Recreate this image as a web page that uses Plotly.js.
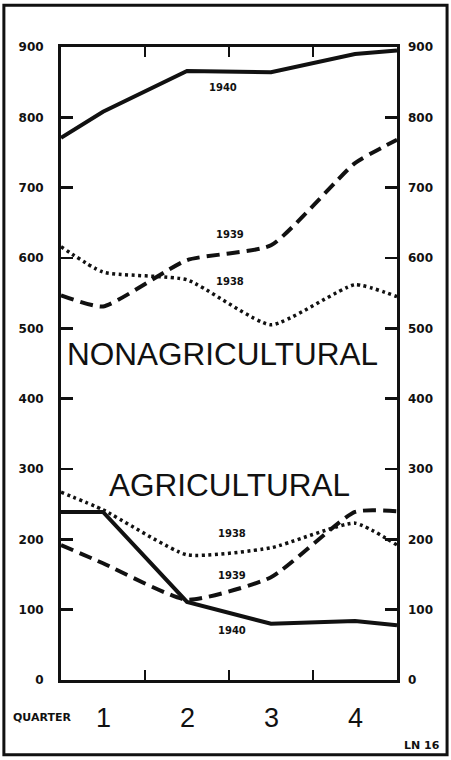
<!DOCTYPE html>
<html><head><meta charset="utf-8">
<script src="https://cdn.plot.ly/plotly-3.0.1.min.js"></script>
<style>html,body{margin:0;padding:0;background:#fff}#c{width:451px;height:760px}</style>
</head><body><div id="c"></div>
<script>
// positions along the quarter axis: chart edge, quarter 1..4 centres, chart edge
const xPos = [0, 0.5, 1.5, 2.5, 3.5, 4];
const quarters = ["1", "2", "3", "4"];
const quarterPos = [0.5, 1.5, 2.5, 3.5];
const yTicks = [0, 100, 200, 300, 400, 500, 600, 700, 800, 900];

const nonag1940 = [771, 808, 866, 864, 890, 895];
const nonag1939 = [547, 531, 597, 618, 735, 768];
const nonag1938 = [616, 580, 569, 505, 562, 545];
const ag1940 = [239, 239, 111, 80, 84, 78];
const ag1939 = [192, 166, 114, 146, 239, 240];
const ag1938 = [267, 242, 178, 188, 223, 192];

const BLK = '#111';
const solid = {color: BLK, width: 4, dash: 'solid'};
const dashed = {color: BLK, width: 4, dash: '13px,7px', shape: 'spline', smoothing: 0.5};
const dotted = {color: BLK, width: 3.5, dash: '3px,3.5px', shape: 'spline', smoothing: 0.5};

function tr(y, line) { return {x: xPos, y: y, mode: 'lines', line: line, hoverinfo: 'skip', showlegend: false}; }

const data = [
  tr(nonag1940, solid), tr(nonag1939, dashed), tr(nonag1938, dotted),
  tr(ag1940, solid), tr(ag1939, dashed), tr(ag1938, dotted),
  {x: [0], y: [0], yaxis: 'y2', mode: 'markers', marker: {opacity: 0}, hoverinfo: 'skip', showlegend: false}
];

const numFont = {family: 'DejaVu Sans', size: 12, color: BLK, weight: 'bold'};
const smallFont = {family: 'DejaVu Sans', size: 10, color: BLK, weight: 'bold'};
const bigFont = {family: 'Liberation Sans', size: 31.5, color: BLK};

function lab(text, x, y, font) {
  return {text: text, x: x, y: y, xref: 'x', yref: 'y', xanchor: 'center', yanchor: 'middle', showarrow: false, font: font};
}

const annotations = [
  lab('1940', 1.93, 843, smallFont),
  lab('1939', 2.01, 633, smallFont),
  lab('1938', 2.01, 566, smallFont),
  lab('NONAGRICULTURAL', 1.92, 464, bigFont),
  lab('AGRICULTURAL', 2.0, 277, bigFont),
  lab('1938', 2.03, 209, smallFont),
  lab('1939', 2.03, 149, smallFont),
  lab('1940', 2.03, 71, smallFont),
  {text: 'QUARTER', x: -0.057, y: -0.060, xref: 'paper', yref: 'paper', xanchor: 'center', yanchor: 'middle',
   showarrow: false, font: {family: 'DejaVu Sans', size: 11, color: BLK, weight: 'bold'}},
  {text: 'LN 16', x: 1.074, y: -0.104, xref: 'paper', yref: 'paper', xanchor: 'center', yanchor: 'middle',
   showarrow: false, font: {family: 'DejaVu Sans', size: 11, color: BLK, weight: 'bold'}}
].concat(quarters.map((q, i) => ({text: q, x: quarterPos[i], y: -0.060, xref: 'x', yref: 'paper',
   xanchor: 'center', yanchor: 'middle', showarrow: false,
   font: {family: 'Liberation Sans', size: 27, color: BLK}})));

const layout = {
  width: 451, height: 760,
  margin: {l: 61, r: 54, t: 47, b: 80},
  paper_bgcolor: '#fff', plot_bgcolor: '#fff',
  showlegend: false,
  xaxis: {range: [0, 4], tickvals: [1, 2, 3], ticktext: ['', '', ''], ticks: 'inside', ticklen: 10,
          tickwidth: 2, tickcolor: BLK, showline: true, linewidth: 3, linecolor: BLK, mirror: 'ticks',
          showgrid: false, zeroline: false, fixedrange: true},
  yaxis: {range: [0, 900], tickvals: yTicks, ticks: 'inside', ticklen: 12, tickwidth: 2.5, tickcolor: BLK,
          showline: true, linewidth: 3, linecolor: BLK, mirror: 'ticks', showgrid: false, zeroline: false,
          tickfont: numFont, ticklabelstandoff: 12, fixedrange: true},
  yaxis2: {range: [0, 900], tickvals: yTicks, overlaying: 'y', side: 'right', ticks: '', showline: false,
           showgrid: false, zeroline: false, tickfont: numFont, ticklabelstandoff: 10, fixedrange: true},
  annotations: annotations,
  shapes: [{type: 'rect', xref: 'paper', yref: 'paper', x0: -0.170, x1: 1.149, y0: -0.118, y1: 1.066,
            line: {color: BLK, width: 3}, fillcolor: 'rgba(0,0,0,0)'}]
};

Plotly.newPlot('c', data, layout, {staticPlot: true, displayModeBar: false});
</script></body></html>
